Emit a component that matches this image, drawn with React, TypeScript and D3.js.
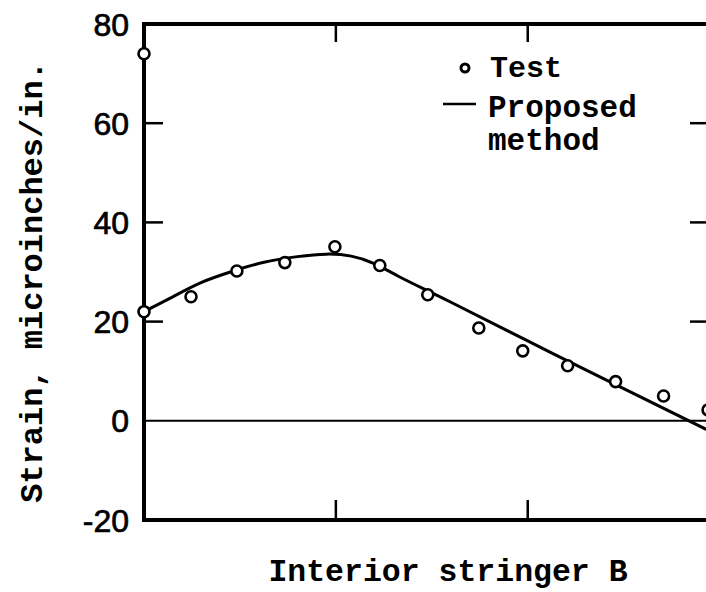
import React from "react";
import * as d3 from "d3";

// Test points (x in stringer-position units, y in microinches/in.)
const testX = [0, 0, 0.245, 0.484, 0.734, 0.995, 1.229, 1.479, 1.745, 1.974, 2.208, 2.458, 2.708, 2.94];
const testY = [74, 22, 25.0, 30.2, 31.9, 35.1, 31.3, 25.4, 18.7, 14.1, 11.1, 7.9, 5.0, 2.2];

// Proposed method curve
const curveX = [0, 0.15, 0.3, 0.45, 0.62, 0.8, 0.95, 1.08, 1.2, 1.333, 1.6, 2.0, 2.4, 2.95];
const curveY = [22, 25.0, 27.9, 30.0, 31.9, 33.1, 33.6, 33.2, 31.7, 29.0, 23.9, 16.1, 8.4, -2.1];

const yTicks = [-20, 0, 20, 40, 60, 80];
const xTicks = [1, 2];
const rightTicks = [20, 40, 60];

const W = 706;
const H = 592;
const left = 144;
const right = 710;
const top = 24;
const bottom = 520;

export default function App() {
  const x = d3.scaleLinear().domain([0, 2.95]).range([left, right]);
  const y = d3.scaleLinear().domain([-20, 80]).range([bottom, top]);

  const linePts: [number, number][] = curveX.map((v, i) => [v, curveY[i]]);
  const line = d3
    .line<[number, number]>()
    .x((d) => x(d[0]))
    .y((d) => y(d[1]))
    .curve(d3.curveNatural);

  const mono = "'Liberation Mono', 'DejaVu Sans Mono', monospace";
  const sans = "'Liberation Sans', Arial, sans-serif";

  return (
    <svg
      width={W}
      height={H}
      style={{ position: "absolute", left: 0, top: 0, background: "#fff", overflow: "hidden" }}
    >
      <rect x={0} y={0} width={W} height={H} fill="#fff" />
      {/* zero line */}
      <line x1={left} x2={right} y1={y(0)} y2={y(0)} stroke="#000" strokeWidth={2} />
      {/* frame */}
      <rect
        x={left}
        y={top}
        width={right - left}
        height={bottom - top}
        fill="none"
        stroke="#000"
        strokeWidth={4}
      />
      {/* left ticks */}
      {yTicks
        .filter((t) => t !== -20 && t !== 80 && t !== 0)
        .map((t) => (
          <line key={"lt" + t} x1={left} x2={left + 19} y1={y(t)} y2={y(t)} stroke="#000" strokeWidth={2.5} />
        ))}
      {/* right ticks */}
      {rightTicks.map((t) => (
        <line key={"rt" + t} x1={right - 20} x2={right} y1={y(t)} y2={y(t)} stroke="#000" strokeWidth={2.5} />
      ))}
      {/* top/bottom ticks */}
      {xTicks.map((t) => (
        <g key={"xt" + t}>
          <line x1={x(t)} x2={x(t)} y1={top} y2={top + 18} stroke="#000" strokeWidth={2.5} />
          <line x1={x(t)} x2={x(t)} y1={bottom} y2={bottom - 20} stroke="#000" strokeWidth={2.5} />
        </g>
      ))}
      {/* y tick labels */}
      {yTicks.map((t) => (
        <text
          key={"yl" + t}
          x={129}
          y={y(t)}
          dy="0.36em"
          textAnchor="end"
          fontFamily={sans}
          fontSize={32}
          fill="#000"
          stroke="#000"
          strokeWidth={0.7}
        >
          {t}
        </text>
      ))}
      {/* proposed method line */}
      <path d={line(linePts) || ""} fill="none" stroke="#000" strokeWidth={3} />
      {/* test points */}
      {testX.map((v, i) => (
        <circle
          key={"p" + i}
          cx={x(v)}
          cy={y(testY[i])}
          r={5.5}
          fill="#fff"
          stroke="#000"
          strokeWidth={2.6}
        />
      ))}
      {/* legend */}
      <circle cx={465} cy={68} r={4} fill="#fff" stroke="#000" strokeWidth={3} />
      <text x={490} y={77} fontFamily={mono} fontWeight="bold" fontSize={30} fill="#000">
        Test
      </text>
      <line x1={443} x2={476} y1={104} y2={104} stroke="#000" strokeWidth={2.5} />
      <text x={488} y={117} fontFamily={mono} fontWeight="bold" fontSize={31} fill="#000">
        Proposed
      </text>
      <text x={488} y={150} fontFamily={mono} fontWeight="bold" fontSize={31} fill="#000">
        method
      </text>
      {/* axis titles */}
      <text
        x={448}
        y={581}
        textAnchor="middle"
        fontFamily={mono}
        fontWeight="bold"
        fontSize={31.5}
        fill="#000"
      >
        Interior stringer B
      </text>
      <text
        transform={`translate(42, 282) rotate(-90)`}
        textAnchor="middle"
        fontFamily={mono}
        fontWeight="bold"
        fontSize={32}
        fill="#000"
      >
        Strain, microinches/in.
      </text>
    </svg>
  );
}
